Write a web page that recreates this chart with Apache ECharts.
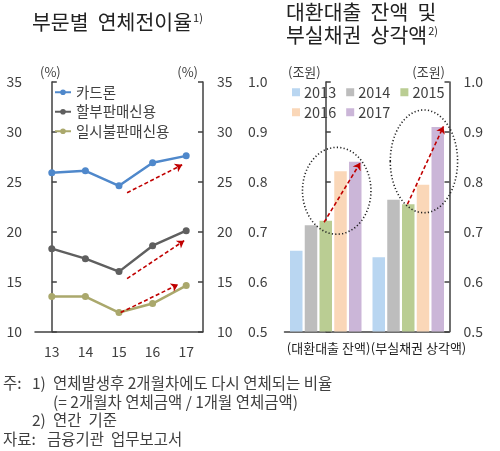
<!DOCTYPE html>
<html><head><meta charset="utf-8">
<script src="https://cdn.jsdelivr.net/npm/echarts@6/dist/echarts.min.js"></script>
<style>html,body{margin:0;padding:0;background:#fff}#c{width:500px;height:451px}</style>
</head><body><div id="c"></div>
<script>
// ---- data ----
const years = ['13', '14', '15', '16', '17'];
const cardLoan = [25.9, 26.1, 24.6, 26.9, 27.6];
const installment = [18.3, 17.3, 16.0, 18.6, 20.1];
const lumpSum = [13.5, 13.5, 11.9, 12.8, 14.6];
const lineNames = ['카드론', '할부판매신용', '일시불판매신용'];
const leftTicks = [10, 15, 20, 25, 30, 35];

const barCategories = ['(대환대출 잔액)', '(부실채권 상각액)'];
const barYears = ['2013', '2014', '2015', '2016', '2017'];
const bar2013 = [0.662, 0.649];
const bar2014 = [0.713, 0.764];
const bar2015 = [0.722, 0.755];
const bar2016 = [0.821, 0.794];
const bar2017 = [0.840, 0.910];
const rightTicks = [0.5, 0.6, 0.7, 0.8, 0.9, 1.0];

// annotations (data coordinates; x as fractional category index)
const leftArrows = [
  [[2.24, 23.9], [3.88, 26.7]],
  [[2.24, 15.3], [3.94, 19.1]],
  [[2.05, 11.9], [3.76, 14.7]]
];
const rightArrows = [
  [[-0.02, 0.719], [0.418, 0.838]],
  [[0.99, 0.755], [1.427, 0.911]]
];
// [centerX, centerY, radiusX, radiusY]
const rightEllipses = [
  [0.133, 0.782, 0.415, 0.087],
  [1.19, 0.841, 0.408, 0.103]
];

const FONT = "'Noto Sans CJK KR', sans-serif";
const TXT = '#404040';
const AX = '#404040';

const chart = echarts.init(document.getElementById('c'), null, {renderer: 'canvas'});

function yAx(grid, pos, min, max, interval, fmt, margin) {
  return {
    type: 'value', gridIndex: grid, position: pos, min: min, max: max, interval: interval,
    axisLine: {show: true, lineStyle: {color: AX, width: 1.5}},
    axisTick: {show: true, inside: true, length: 5, lineStyle: {color: AX, width: 1.5}},
    axisLabel: {fontFamily: FONT, fontSize: 14, color: TXT, margin: margin, formatter: fmt},
    splitLine: {show: false}
  };
}

const ellipseStyle = {fill: 'none', stroke: '#222', lineWidth: 1.6, lineDash: [1.2, 2.2]};
const titleRich = {
  t: {fontFamily: FONT, fontSize: 20.5, fontWeight: 'normal', color: '#222', lineHeight: 23},
  s: {fontFamily: FONT, fontSize: 11, fontWeight: 'normal', color: '#222', padding: [0, 0, 10, 1]}
};
const legendRow = (items, top) => ({
  data: items, orient: 'horizontal', left: 292, top: top, padding: 0,
  itemWidth: 8, itemHeight: 8, itemGap: 10, icon: 'rect',
  textStyle: {fontFamily: FONT, fontSize: 14.5, color: TXT, padding: [0, 0, 0, -1]}
});
const unitText = (x, y, txt, align) => ({type: 'text', x: x, y: y,
  style: {text: txt, font: '13px ' + FONT, fill: TXT, align: align, verticalAlign: 'middle'}});
const noteText = (x, y, txt) => ({type: 'text', x: x, y: y,
  style: {text: txt, font: '15.5px ' + FONT, fill: TXT, align: 'left', verticalAlign: 'middle'}});

const option = {
  animation: false,
  textStyle: {fontFamily: FONT},
  title: [
    {left: 32, top: 11, padding: 0, text: '{t|부문별  연체전이율}{s|1)}', textStyle: {rich: titleRich}},
    {left: 286, top: 1, padding: 0, text: '{t|대환대출  잔액  및}\n{t|부실채권  상각액}{s|2)}', textStyle: {rich: titleRich}}
  ],
  grid: [
    {left: 35, top: 82, width: 168, height: 249.5},
    {left: 284.5, top: 82, width: 165, height: 249.5}
  ],
  legend: [
    {data: lineNames, orient: 'vertical', left: 49, top: 80, itemWidth: 16, itemHeight: 7, itemGap: 5,
      textStyle: {fontFamily: FONT, fontSize: 14.5, color: TXT}},
    legendRow(barYears.slice(0, 3), 85),
    legendRow(barYears.slice(3), 105)
  ],
  xAxis: [
    {type: 'category', gridIndex: 0, data: years, boundaryGap: true,
      axisLine: {lineStyle: {color: AX, width: 1.5}},
      axisTick: {inside: true, length: 5, lineStyle: {color: AX, width: 1.5}},
      axisLabel: {fontFamily: FONT, fontSize: 14, color: TXT, margin: 13}},
    {type: 'value', gridIndex: 0, min: -0.5, max: 4.5, show: false},
    {type: 'category', gridIndex: 1, boundaryGap: true,
      data: [
        {value: barCategories[0], textStyle: {padding: [0, 0, 0, 5.6]}},
        {value: barCategories[1], textStyle: {padding: [0, 0, 0, 20.6]}}
      ],
      axisLine: {lineStyle: {color: AX, width: 1.5}},
      axisTick: {inside: true, length: 5, lineStyle: {color: AX, width: 1.5}},
      axisLabel: {fontFamily: FONT, fontSize: 13, color: '#222', margin: 10, interval: 0, hideOverlap: false}},
    {type: 'value', gridIndex: 1, min: -0.5, max: 1.5, show: false}
  ],
  yAxis: [
    yAx(0, 'left', 10, 35, 5, null, 13),
    yAx(0, 'right', 10, 35, 5, null, 14),
    yAx(1, 'left', 0.5, 1.0, 0.1, v => v.toFixed(1), 17),
    yAx(1, 'right', 0.5, 1.0, 0.1, v => v.toFixed(1), 14)
  ],
  series: [
    {name: lineNames[0], type: 'line', xAxisIndex: 0, yAxisIndex: 0, data: cardLoan,
      symbol: 'circle', symbolSize: 7, itemStyle: {color: '#4f88cb'}, lineStyle: {width: 2.5, color: '#4f88cb'}},
    {name: lineNames[1], type: 'line', xAxisIndex: 0, yAxisIndex: 0, data: installment,
      symbol: 'circle', symbolSize: 7, itemStyle: {color: '#5f5f5f'}, lineStyle: {width: 2.5, color: '#5f5f5f'}},
    {name: lineNames[2], type: 'line', xAxisIndex: 0, yAxisIndex: 0, data: lumpSum,
      symbol: 'circle', symbolSize: 7, itemStyle: {color: '#aaa86c'}, lineStyle: {width: 2.5, color: '#aaa86c'}},
    {type: 'lines', coordinateSystem: 'cartesian2d', xAxisIndex: 1, yAxisIndex: 0, z: 5,
      symbol: ['none', 'arrow'], symbolSize: 7,
      lineStyle: {color: '#c00000', width: 1.6, type: [4, 2.5], curveness: 0, opacity: 1},
      data: leftArrows.map(c => ({coords: c}))},
    {name: barYears[0], type: 'bar', xAxisIndex: 2, yAxisIndex: 2, data: bar2013, barWidth: 12.5, barGap: '18%', itemStyle: {color: '#b9d6f1'}},
    {name: barYears[1], type: 'bar', xAxisIndex: 2, yAxisIndex: 2, data: bar2014, barWidth: 12.5, barGap: '18%', itemStyle: {color: '#bdbdbd'}},
    {name: barYears[2], type: 'bar', xAxisIndex: 2, yAxisIndex: 2, data: bar2015, barWidth: 12.5, barGap: '18%', itemStyle: {color: '#bacd93'}},
    {name: barYears[3], type: 'bar', xAxisIndex: 2, yAxisIndex: 2, data: bar2016, barWidth: 12.5, barGap: '18%', itemStyle: {color: '#fad7b8'}},
    {name: barYears[4], type: 'bar', xAxisIndex: 2, yAxisIndex: 2, data: bar2017, barWidth: 12.5, barGap: '18%', itemStyle: {color: '#cbb6d8'}},
    {type: 'custom', coordinateSystem: 'cartesian2d', xAxisIndex: 3, yAxisIndex: 2, z: 6, silent: true,
      data: rightEllipses,
      renderItem: function (params, api) {
        const c = api.coord([api.value(0), api.value(1)]);
        const e = api.coord([api.value(0) + api.value(2), api.value(1) + api.value(3)]);
        return {type: 'ellipse', shape: {cx: c[0], cy: c[1], rx: Math.abs(e[0] - c[0]), ry: Math.abs(c[1] - e[1])},
          style: ellipseStyle};
      }},
    {type: 'lines', coordinateSystem: 'cartesian2d', xAxisIndex: 3, yAxisIndex: 2, z: 7,
      symbol: ['none', 'arrow'], symbolSize: 7,
      lineStyle: {color: '#c00000', width: 1.6, type: [4, 2.5], curveness: 0, opacity: 1},
      data: rightArrows.map(c => ({coords: c}))}
  ],
  graphic: [
    unitText(40, 72, '(%)', 'left'),
    unitText(198, 72, '(%)', 'right'),
    unitText(288, 72, '(조원)', 'left'),
    unitText(445, 72, '(조원)', 'right'),
    noteText(3, 383, '주:'),
    noteText(32, 383, '1)'),
    noteText(53, 383, '연체발생후 2개월차에도 다시 연체되는 비율'),
    noteText(53, 402, '(= 2개월차 연체금액 / 1개월 연체금액)'),
    noteText(32, 420.5, '2)'),
    noteText(53, 420.5, '연간  기준'),
    noteText(3, 439.5, '자료:'),
    noteText(47, 439.5, '금융기관  업무보고서')
  ]
};
chart.setOption(option);
</script>
</body></html>
